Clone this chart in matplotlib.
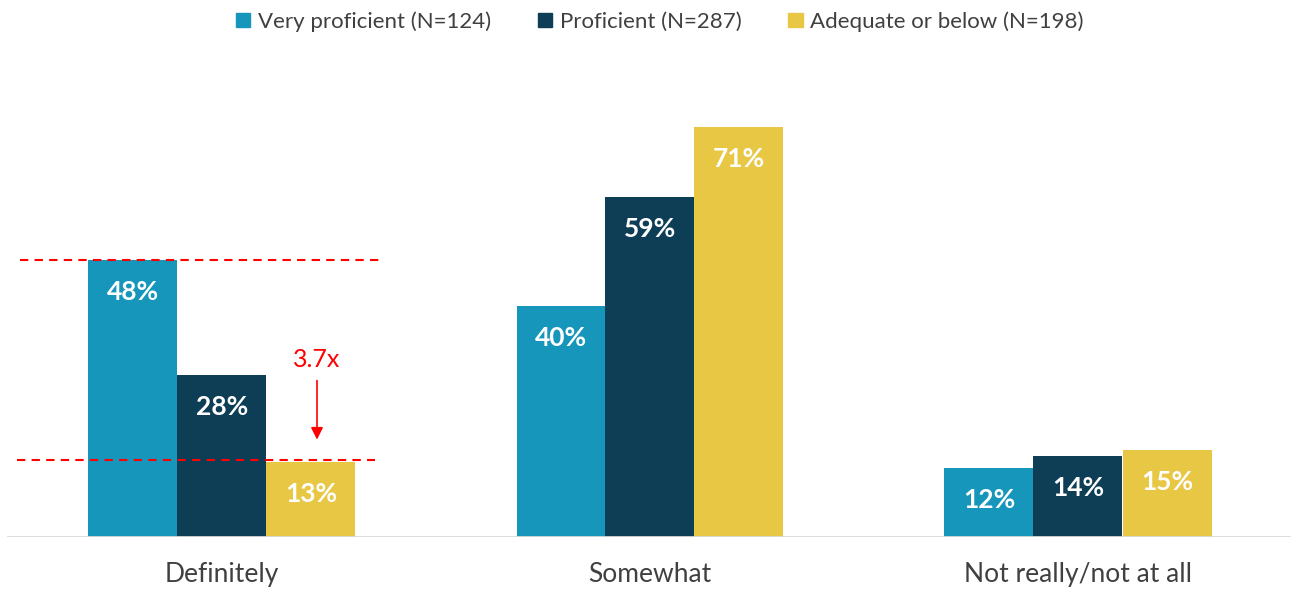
import matplotlib.pyplot as plt
import numpy as np
from matplotlib.patches import Patch

plt.rcParams['font.family'] = ['Lato', 'DejaVu Sans']

categories = ["Definitely", "Somewhat", "Not really/not at all"]
series = ["Very proficient (N=124)", "Proficient (N=287)", "Adequate or below (N=198)"]
very_proficient = [48, 40, 12]
proficient = [28, 59, 14]
adequate = [13, 71, 15]
ratio_label = "3.7x"

colors = ["#1596BA", "#0E3E56", "#E8C744"]
text_gray = "#404040"


def main():
    fig = plt.figure(figsize=(12.91, 5.90), dpi=100)
    ax = fig.add_axes([0, 53 / 590, 1, 537 / 590])

    x = np.arange(len(categories))
    width = 89 / 428

    for i, (vals, color) in enumerate(zip([very_proficient, proficient, adequate], colors)):
        offs = (i - 1) * width
        ax.bar(x + offs, vals, width=width, color=color, linewidth=0)
        for xi, v in zip(x, vals):
            ax.annotate(f"{v}%", (xi + offs, v), xytext=(0, -23), textcoords="offset points",
                        ha="center", va="center", color="white", fontsize=19, fontweight="bold")

    ax.set_xlim(-222 / 428, (1291 - 222) / 428)
    ax.set_ylim(0, 537 / 5.77)
    ax.axis("off")
    ax.axhline(0, xmin=8 / 1291, xmax=1, color="#d9d9d9", linewidth=2)

    for xi, name in zip(x, categories):
        ax.annotate(name, (xi, 0), xytext=(0, -27), textcoords="offset points",
                    ha="center", va="center", color=text_gray, fontsize=19)

    # dashed guides between the top and bottom bars of the first group
    top, low = very_proficient[0], adequate[0]
    ax.plot([(20 - 222) / 428, (380 - 222) / 428], [top, top], color="red", ls=(0, (4, 3)), lw=1.5)
    ax.plot([(17 - 222) / 428, (375 - 222) / 428], [low + 0.3, low + 0.3], color="red", ls=(0, (4, 3)), lw=1.5)
    ax_x = (317 - 222) / 428
    ax.annotate("", xy=(ax_x, low + 3.4), xytext=(ax_x, 27.6),
                arrowprops=dict(arrowstyle="-|>", color="red", lw=1.2, mutation_scale=18))
    ax.text(ax_x, 30.8, ratio_label, color="red", fontsize=18, ha="center", va="center")

    handles = [Patch(color=c, label=s) for c, s in zip(colors, series)]
    leg = fig.legend(handles=handles, loc="upper center", bbox_to_anchor=(0.511, 1.015), ncol=3,
                     frameon=False, fontsize=16, handlelength=0.65, handleheight=0.65,
                     handletextpad=0.35, columnspacing=2.1)
    for t in leg.get_texts():
        t.set_color(text_gray)

    fig.savefig("out.png", dpi=100)


if __name__ == '__main__':
    main()
